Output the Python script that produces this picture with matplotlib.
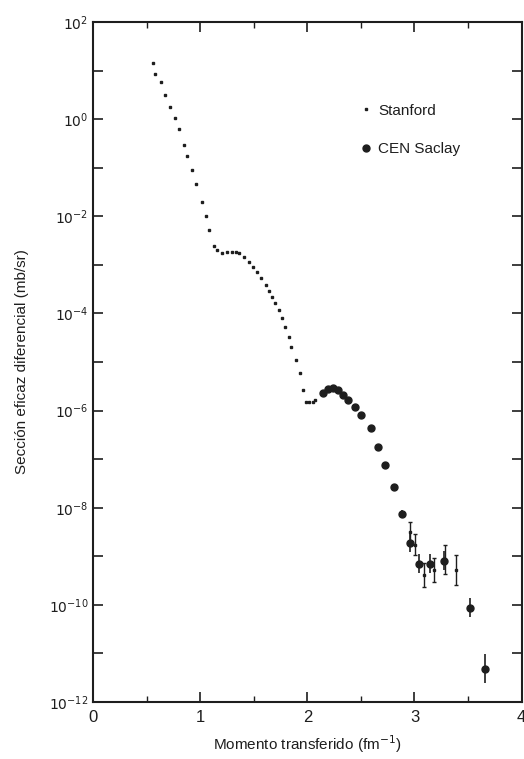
import numpy as np
import matplotlib
matplotlib.use("Agg")
import matplotlib.pyplot as plt

# Stanford (puntos pequenos) : momento (fm^-1), log10 seccion eficaz (mb/sr)
stanford_q = [0.556, 0.583, 0.639, 0.676, 0.722, 0.769, 0.806, 0.852, 0.880, 0.926,
              0.963, 1.019, 1.056, 1.083, 1.130, 1.160, 1.204, 1.250, 1.296, 1.330,
              1.361, 1.410, 1.454, 1.490, 1.528, 1.570, 1.611, 1.640, 1.667, 1.700,
              1.731, 1.765, 1.796, 1.825, 1.852, 1.895, 1.935, 1.963, 1.991, 2.020,
              2.056, 2.075]
stanford_log = [1.156, 0.930, 0.765, 0.498, 0.251, 0.025, -0.202, -0.531, -0.757, -1.045,
                -1.333, -1.704, -1.992, -2.280, -2.609, -2.700, -2.753, -2.740, -2.733, -2.740,
                -2.753, -2.840, -2.938, -3.040, -3.144, -3.280, -3.412, -3.540, -3.658, -3.790,
                -3.926, -4.100, -4.276, -4.480, -4.687, -4.950, -5.222, -5.572, -5.819, -5.830,
                -5.819, -5.790]

# Stanford a alto momento, con barras de error
stanford_hq = [2.954, 3.009, 3.093, 3.185, 3.287, 3.389]
stanford_hlog = [-8.49, -8.76, -9.38, -9.28, -9.07, -9.28]
stanford_herr = [0.20, 0.22, 0.25, 0.25, 0.30, 0.30]

# CEN Saclay (puntos grandes)
saclay_q = [2.148, 2.194, 2.241, 2.287, 2.333, 2.380, 2.444, 2.500, 2.593, 2.657,
            2.722, 2.806, 2.880, 2.954, 3.046, 3.148, 3.278, 3.519, 3.657]
saclay_log = [-5.634, -5.551, -5.531, -5.572, -5.675, -5.778, -5.922, -6.086, -6.354, -6.745,
              -7.115, -7.568, -8.123, -8.720, -9.152, -9.152, -9.091, -10.058, -11.313]
saclay_err = [0.02, 0.02, 0.02, 0.02, 0.02, 0.02, 0.03, 0.03, 0.03, 0.04,
              0.05, 0.06, 0.08, 0.20, 0.20, 0.20, 0.20, 0.20, 0.30]

col = "#1e1e1e"
plt.rcParams["font.family"] = ["Liberation Sans", "DejaVu Sans"]

fig = plt.figure(figsize=(5.24, 7.59), dpi=100)
ax = fig.add_axes([0.1775, 0.075, 0.818, 0.896])

s_y = 10 ** np.array(stanford_log)
ax.plot(stanford_q, s_y, ls="none", marker="s", ms=2.0, color=col)

h_y = 10 ** np.array(stanford_hlog)
h_lo = h_y - 10 ** (np.array(stanford_hlog) - np.array(stanford_herr))
h_hi = 10 ** (np.array(stanford_hlog) + np.array(stanford_herr)) - h_y
ax.errorbar(stanford_hq, h_y, yerr=[h_lo, h_hi], fmt="s", ms=2.0, color=col,
            elinewidth=1.0, capsize=1.5)

c_y = 10 ** np.array(saclay_log)
c_lo = c_y - 10 ** (np.array(saclay_log) - np.array(saclay_err))
c_hi = 10 ** (np.array(saclay_log) + np.array(saclay_err)) - c_y
ax.errorbar(saclay_q, c_y, yerr=[c_lo, c_hi], fmt="o", ms=5, color=col,
            elinewidth=1.2, capsize=0)

ax.set_yscale("log")
ax.set_xlim(0, 4)
ax.set_ylim(1e-12, 1e2)

# ticks en cada decada, etiquetas solo en potencias pares
dec = np.arange(-12, 3)
ax.set_yticks(10.0 ** dec)
ax.set_yticklabels([r"$10^{%d}$" % d if d % 2 == 0 else "" for d in dec])
ax.yaxis.set_minor_locator(matplotlib.ticker.NullLocator())
ax.set_xticks([0, 1, 2, 3, 4])
ax.set_xticks([0.5, 1.5, 2.5, 3.5], minor=True)
ax.tick_params(which="both", direction="in", top=True, right=True, color=col,
               labelcolor=col, labelsize=10)
ax.tick_params(which="major", length=7, width=1.2)
ax.tick_params(which="minor", length=4, width=1.0)
ax.tick_params(axis="x", labelsize=12, pad=6)
for sp in ax.spines.values():
    sp.set_linewidth(1.5)
    sp.set_color(col)

ax.set_xlabel("Momento transferido (fm$^{-1}$)", fontsize=11, color=col, labelpad=6)
ax.set_ylabel("Sección eficaz diferencial (mb/sr)", fontsize=11, color=col, labelpad=14)

# leyenda
ax.legend(handles=[plt.Line2D([], [], ls="none", marker="s", ms=2.0, color=col, label="Stanford"),
                   plt.Line2D([], [], ls="none", marker="o", ms=5, color=col, label="CEN Saclay")],
          loc="upper left", bbox_to_anchor=(0.59, 0.9), frameon=False, fontsize=11,
          handletextpad=0.4, labelspacing=1.6, handlelength=0.8, labelcolor=col)

fig.savefig("out.png", dpi=100, facecolor="white")
